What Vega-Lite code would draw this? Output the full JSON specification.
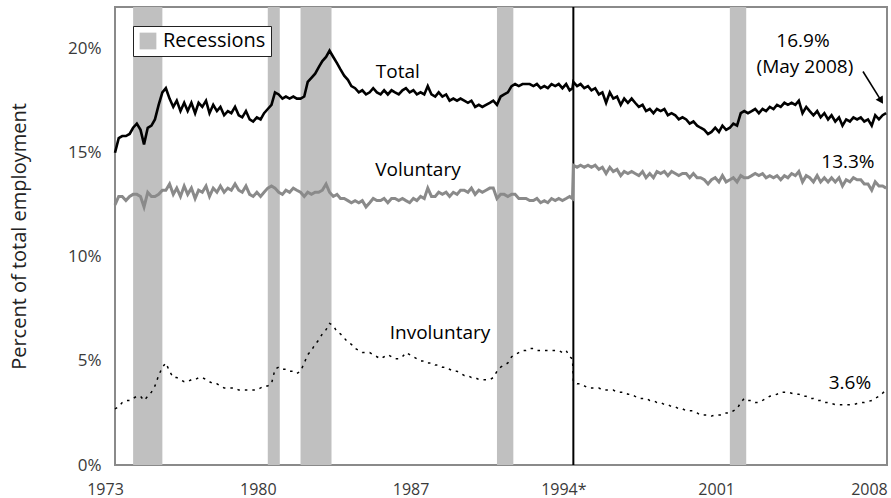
{
  "$schema": "https://vega.github.io/schema/vega-lite/v6.json",
  "width": 772,
  "height": 458,
  "autosize": {"type": "none"},
  "padding": {"left": 115, "top": 7, "right": 4, "bottom": 33},
  "background": "white",
  "config": {
    "view": {"stroke": "#8a8a8a", "strokeWidth": 2},
    "font": "Open Sans",
    "axis": {"grid": false, "ticks": false, "domain": false, "labelFont": "Open Sans", "labelColor": "#3a3a3a", "titleFont": "Open Sans", "titleFontWeight": "normal", "titleColor": "#222"}
  },
  "datasets": {
    "series": [
      {"year":1973.00,"total":15.0,"voluntary":12.5,"involuntary":2.7},
      {"year":1973.17,"total":15.7,"voluntary":12.9,"involuntary":2.8},
      {"year":1973.33,"total":15.8,"voluntary":12.9,"involuntary":3.0},
      {"year":1973.50,"total":15.8,"voluntary":12.7,"involuntary":3.1},
      {"year":1973.67,"total":15.9,"voluntary":12.9,"involuntary":3.1},
      {"year":1973.83,"total":16.2,"voluntary":13.0,"involuntary":3.2},
      {"year":1974.00,"total":16.4,"voluntary":13.0,"involuntary":3.3},
      {"year":1974.17,"total":16.1,"voluntary":12.9,"involuntary":3.3},
      {"year":1974.33,"total":15.4,"voluntary":12.4,"involuntary":3.1},
      {"year":1974.50,"total":16.2,"voluntary":13.1,"involuntary":3.3},
      {"year":1974.67,"total":16.3,"voluntary":12.9,"involuntary":3.5},
      {"year":1974.83,"total":16.6,"voluntary":12.9,"involuntary":3.8},
      {"year":1975.00,"total":17.3,"voluntary":13.0,"involuntary":4.3},
      {"year":1975.17,"total":17.9,"voluntary":13.2,"involuntary":4.7},
      {"year":1975.33,"total":18.1,"voluntary":13.2,"involuntary":4.9},
      {"year":1975.50,"total":17.6,"voluntary":13.5,"involuntary":4.5},
      {"year":1975.67,"total":17.2,"voluntary":13.0,"involuntary":4.2},
      {"year":1975.83,"total":17.5,"voluntary":13.3,"involuntary":4.2},
      {"year":1976.00,"total":17.0,"voluntary":12.9,"involuntary":4.1},
      {"year":1976.17,"total":17.4,"voluntary":13.4,"involuntary":4.0},
      {"year":1976.33,"total":17.0,"voluntary":13.0,"involuntary":4.0},
      {"year":1976.50,"total":17.4,"voluntary":13.3,"involuntary":4.1},
      {"year":1976.67,"total":16.9,"voluntary":12.8,"involuntary":4.1},
      {"year":1976.83,"total":17.4,"voluntary":13.2,"involuntary":4.2},
      {"year":1977.00,"total":17.2,"voluntary":13.1,"involuntary":4.2},
      {"year":1977.17,"total":17.5,"voluntary":13.4,"involuntary":4.1},
      {"year":1977.33,"total":16.9,"voluntary":12.9,"involuntary":4.0},
      {"year":1977.50,"total":17.3,"voluntary":13.3,"involuntary":3.9},
      {"year":1977.67,"total":17.0,"voluntary":13.1,"involuntary":3.9},
      {"year":1977.83,"total":17.2,"voluntary":13.4,"involuntary":3.8},
      {"year":1978.00,"total":16.8,"voluntary":13.1,"involuntary":3.7},
      {"year":1978.17,"total":17.0,"voluntary":13.3,"involuntary":3.7},
      {"year":1978.33,"total":16.9,"voluntary":13.2,"involuntary":3.7},
      {"year":1978.50,"total":17.2,"voluntary":13.5,"involuntary":3.7},
      {"year":1978.67,"total":16.8,"voluntary":13.2,"involuntary":3.6},
      {"year":1978.83,"total":16.7,"voluntary":13.1,"involuntary":3.6},
      {"year":1979.00,"total":17.0,"voluntary":13.4,"involuntary":3.6},
      {"year":1979.17,"total":16.6,"voluntary":13.0,"involuntary":3.6},
      {"year":1979.33,"total":16.5,"voluntary":12.9,"involuntary":3.6},
      {"year":1979.50,"total":16.7,"voluntary":13.1,"involuntary":3.6},
      {"year":1979.67,"total":16.6,"voluntary":12.9,"involuntary":3.7},
      {"year":1979.83,"total":16.9,"voluntary":13.1,"involuntary":3.8},
      {"year":1980.00,"total":17.1,"voluntary":13.3,"involuntary":3.8},
      {"year":1980.17,"total":17.3,"voluntary":13.4,"involuntary":3.9},
      {"year":1980.33,"total":17.9,"voluntary":13.3,"involuntary":4.6},
      {"year":1980.50,"total":17.8,"voluntary":13.1,"involuntary":4.7},
      {"year":1980.67,"total":17.6,"voluntary":13.0,"involuntary":4.6},
      {"year":1980.83,"total":17.7,"voluntary":13.2,"involuntary":4.6},
      {"year":1981.00,"total":17.6,"voluntary":13.1,"involuntary":4.5},
      {"year":1981.17,"total":17.7,"voluntary":13.3,"involuntary":4.5},
      {"year":1981.33,"total":17.6,"voluntary":13.2,"involuntary":4.4},
      {"year":1981.50,"total":17.6,"voluntary":13.1,"involuntary":4.5},
      {"year":1981.67,"total":17.7,"voluntary":12.9,"involuntary":4.9},
      {"year":1981.83,"total":18.4,"voluntary":13.1,"involuntary":5.3},
      {"year":1982.00,"total":18.6,"voluntary":13.0,"involuntary":5.5},
      {"year":1982.17,"total":18.8,"voluntary":13.1,"involuntary":5.8},
      {"year":1982.33,"total":19.1,"voluntary":13.1,"involuntary":6.0},
      {"year":1982.50,"total":19.4,"voluntary":13.2,"involuntary":6.3},
      {"year":1982.67,"total":19.6,"voluntary":13.5,"involuntary":6.5},
      {"year":1982.83,"total":19.9,"voluntary":13.1,"involuntary":6.8},
      {"year":1983.00,"total":19.6,"voluntary":12.9,"involuntary":6.7},
      {"year":1983.17,"total":19.3,"voluntary":13.0,"involuntary":6.4},
      {"year":1983.33,"total":19.0,"voluntary":12.8,"involuntary":6.3},
      {"year":1983.50,"total":18.7,"voluntary":12.8,"involuntary":6.1},
      {"year":1983.67,"total":18.5,"voluntary":12.7,"involuntary":5.9},
      {"year":1983.83,"total":18.2,"voluntary":12.6,"involuntary":5.8},
      {"year":1984.00,"total":18.1,"voluntary":12.7,"involuntary":5.6},
      {"year":1984.17,"total":17.9,"voluntary":12.6,"involuntary":5.5},
      {"year":1984.33,"total":18.0,"voluntary":12.7,"involuntary":5.4},
      {"year":1984.50,"total":17.8,"voluntary":12.4,"involuntary":5.4},
      {"year":1984.67,"total":17.9,"voluntary":12.6,"involuntary":5.4},
      {"year":1984.83,"total":18.1,"voluntary":12.8,"involuntary":5.3},
      {"year":1985.00,"total":17.9,"voluntary":12.7,"involuntary":5.2},
      {"year":1985.17,"total":17.8,"voluntary":12.7,"involuntary":5.1},
      {"year":1985.33,"total":18.0,"voluntary":12.8,"involuntary":5.2},
      {"year":1985.50,"total":17.8,"voluntary":12.6,"involuntary":5.3},
      {"year":1985.67,"total":18.0,"voluntary":12.8,"involuntary":5.2},
      {"year":1985.83,"total":17.9,"voluntary":12.8,"involuntary":5.1},
      {"year":1986.00,"total":17.8,"voluntary":12.7,"involuntary":5.1},
      {"year":1986.17,"total":18.0,"voluntary":12.8,"involuntary":5.2},
      {"year":1986.33,"total":18.1,"voluntary":12.7,"involuntary":5.4},
      {"year":1986.50,"total":17.9,"voluntary":12.6,"involuntary":5.3},
      {"year":1986.67,"total":18.0,"voluntary":12.8,"involuntary":5.2},
      {"year":1986.83,"total":17.8,"voluntary":12.7,"involuntary":5.1},
      {"year":1987.00,"total":17.9,"voluntary":12.9,"involuntary":5.0},
      {"year":1987.17,"total":17.8,"voluntary":12.8,"involuntary":5.0},
      {"year":1987.33,"total":18.2,"voluntary":13.3,"involuntary":4.9},
      {"year":1987.50,"total":17.8,"voluntary":12.9,"involuntary":4.9},
      {"year":1987.67,"total":17.7,"voluntary":12.9,"involuntary":4.8},
      {"year":1987.83,"total":17.9,"voluntary":13.1,"involuntary":4.8},
      {"year":1988.00,"total":17.7,"voluntary":13.0,"involuntary":4.7},
      {"year":1988.17,"total":17.8,"voluntary":13.1,"involuntary":4.7},
      {"year":1988.33,"total":17.5,"voluntary":12.9,"involuntary":4.6},
      {"year":1988.50,"total":17.6,"voluntary":13.1,"involuntary":4.5},
      {"year":1988.67,"total":17.5,"voluntary":13.0,"involuntary":4.5},
      {"year":1988.83,"total":17.6,"voluntary":13.2,"involuntary":4.4},
      {"year":1989.00,"total":17.5,"voluntary":13.2,"involuntary":4.3},
      {"year":1989.17,"total":17.4,"voluntary":13.1,"involuntary":4.3},
      {"year":1989.33,"total":17.5,"voluntary":13.3,"involuntary":4.2},
      {"year":1989.50,"total":17.2,"voluntary":13.0,"involuntary":4.2},
      {"year":1989.67,"total":17.3,"voluntary":13.2,"involuntary":4.1},
      {"year":1989.83,"total":17.2,"voluntary":13.1,"involuntary":4.1},
      {"year":1990.00,"total":17.3,"voluntary":13.2,"involuntary":4.1},
      {"year":1990.17,"total":17.4,"voluntary":13.3,"involuntary":4.1},
      {"year":1990.33,"total":17.5,"voluntary":13.3,"involuntary":4.2},
      {"year":1990.50,"total":17.3,"voluntary":12.8,"involuntary":4.5},
      {"year":1990.67,"total":17.7,"voluntary":13.0,"involuntary":4.7},
      {"year":1990.83,"total":17.8,"voluntary":13.0,"involuntary":4.8},
      {"year":1991.00,"total":17.9,"voluntary":12.9,"involuntary":4.9},
      {"year":1991.17,"total":18.2,"voluntary":13.0,"involuntary":5.2},
      {"year":1991.33,"total":18.3,"voluntary":13.0,"involuntary":5.3},
      {"year":1991.50,"total":18.2,"voluntary":12.8,"involuntary":5.4},
      {"year":1991.67,"total":18.3,"voluntary":12.8,"involuntary":5.5},
      {"year":1991.83,"total":18.3,"voluntary":12.8,"involuntary":5.5},
      {"year":1992.00,"total":18.3,"voluntary":12.7,"involuntary":5.6},
      {"year":1992.17,"total":18.2,"voluntary":12.7,"involuntary":5.6},
      {"year":1992.33,"total":18.3,"voluntary":12.8,"involuntary":5.5},
      {"year":1992.50,"total":18.1,"voluntary":12.6,"involuntary":5.5},
      {"year":1992.67,"total":18.2,"voluntary":12.7,"involuntary":5.5},
      {"year":1992.83,"total":18.1,"voluntary":12.6,"involuntary":5.5},
      {"year":1993.00,"total":18.3,"voluntary":12.8,"involuntary":5.5},
      {"year":1993.17,"total":18.2,"voluntary":12.7,"involuntary":5.5},
      {"year":1993.33,"total":18.3,"voluntary":12.8,"involuntary":5.5},
      {"year":1993.50,"total":18.1,"voluntary":12.7,"involuntary":5.4},
      {"year":1993.67,"total":18.3,"voluntary":12.8,"involuntary":5.5},
      {"year":1993.83,"total":18.0,"voluntary":12.9,"involuntary":5.2},
      {"year":1993.96,"total":18.1,"voluntary":12.8,"involuntary":5.1},
      {"year":1994.00,"total":18.4,"voluntary":14.4,"involuntary":4.0},
      {"year":1994.17,"total":18.2,"voluntary":14.3,"involuntary":3.9},
      {"year":1994.33,"total":18.3,"voluntary":14.4,"involuntary":3.9},
      {"year":1994.50,"total":18.1,"voluntary":14.3,"involuntary":3.8},
      {"year":1994.67,"total":18.2,"voluntary":14.4,"involuntary":3.7},
      {"year":1994.83,"total":18.0,"voluntary":14.3,"involuntary":3.7},
      {"year":1995.00,"total":18.1,"voluntary":14.4,"involuntary":3.7},
      {"year":1995.17,"total":17.8,"voluntary":14.2,"involuntary":3.7},
      {"year":1995.33,"total":17.9,"voluntary":14.3,"involuntary":3.6},
      {"year":1995.50,"total":17.4,"voluntary":14.0,"involuntary":3.6},
      {"year":1995.67,"total":17.9,"voluntary":14.3,"involuntary":3.6},
      {"year":1995.83,"total":17.6,"voluntary":14.1,"involuntary":3.6},
      {"year":1996.00,"total":17.7,"voluntary":14.2,"involuntary":3.5},
      {"year":1996.17,"total":17.3,"voluntary":13.9,"involuntary":3.5},
      {"year":1996.33,"total":17.6,"voluntary":14.1,"involuntary":3.5},
      {"year":1996.50,"total":17.4,"voluntary":14.0,"involuntary":3.4},
      {"year":1996.67,"total":17.6,"voluntary":14.1,"involuntary":3.4},
      {"year":1996.83,"total":17.4,"voluntary":14.0,"involuntary":3.3},
      {"year":1997.00,"total":17.2,"voluntary":13.9,"involuntary":3.2},
      {"year":1997.17,"total":17.3,"voluntary":14.1,"involuntary":3.2},
      {"year":1997.33,"total":17.0,"voluntary":13.8,"involuntary":3.2},
      {"year":1997.50,"total":17.1,"voluntary":14.0,"involuntary":3.1},
      {"year":1997.67,"total":16.9,"voluntary":13.8,"involuntary":3.1},
      {"year":1997.83,"total":17.1,"voluntary":14.1,"involuntary":3.0},
      {"year":1998.00,"total":17.0,"voluntary":14.0,"involuntary":3.0},
      {"year":1998.17,"total":17.1,"voluntary":14.1,"involuntary":2.9},
      {"year":1998.33,"total":16.8,"voluntary":13.9,"involuntary":2.9},
      {"year":1998.50,"total":16.9,"voluntary":14.1,"involuntary":2.8},
      {"year":1998.67,"total":16.8,"voluntary":14.0,"involuntary":2.8},
      {"year":1998.83,"total":16.6,"voluntary":13.9,"involuntary":2.7},
      {"year":1999.00,"total":16.7,"voluntary":14.0,"involuntary":2.7},
      {"year":1999.17,"total":16.6,"voluntary":14.0,"involuntary":2.6},
      {"year":1999.33,"total":16.4,"voluntary":13.8,"involuntary":2.6},
      {"year":1999.50,"total":16.5,"voluntary":14.0,"involuntary":2.6},
      {"year":1999.67,"total":16.3,"voluntary":13.8,"involuntary":2.5},
      {"year":1999.83,"total":16.2,"voluntary":13.8,"involuntary":2.4},
      {"year":2000.00,"total":16.1,"voluntary":13.7,"involuntary":2.4},
      {"year":2000.17,"total":15.9,"voluntary":13.5,"involuntary":2.4},
      {"year":2000.33,"total":16.0,"voluntary":13.7,"involuntary":2.35},
      {"year":2000.50,"total":16.2,"voluntary":13.8,"involuntary":2.4},
      {"year":2000.67,"total":16.0,"voluntary":13.6,"involuntary":2.4},
      {"year":2000.83,"total":16.3,"voluntary":13.9,"involuntary":2.4},
      {"year":2001.00,"total":16.1,"voluntary":13.6,"involuntary":2.5},
      {"year":2001.17,"total":16.2,"voluntary":13.7,"involuntary":2.5},
      {"year":2001.33,"total":16.4,"voluntary":13.8,"involuntary":2.6},
      {"year":2001.50,"total":16.3,"voluntary":13.6,"involuntary":2.7},
      {"year":2001.67,"total":16.9,"voluntary":13.9,"involuntary":3.0},
      {"year":2001.83,"total":17.0,"voluntary":13.8,"involuntary":3.2},
      {"year":2002.00,"total":16.9,"voluntary":13.8,"involuntary":3.1},
      {"year":2002.17,"total":17.0,"voluntary":13.9,"involuntary":3.1},
      {"year":2002.33,"total":17.1,"voluntary":14.0,"involuntary":3.0},
      {"year":2002.50,"total":16.9,"voluntary":13.9,"involuntary":3.0},
      {"year":2002.67,"total":17.1,"voluntary":14.0,"involuntary":3.1},
      {"year":2002.83,"total":17.0,"voluntary":13.8,"involuntary":3.2},
      {"year":2003.00,"total":17.2,"voluntary":13.9,"involuntary":3.3},
      {"year":2003.17,"total":17.1,"voluntary":13.8,"involuntary":3.35},
      {"year":2003.33,"total":17.3,"voluntary":13.9,"involuntary":3.4},
      {"year":2003.50,"total":17.2,"voluntary":13.7,"involuntary":3.5},
      {"year":2003.67,"total":17.4,"voluntary":13.9,"involuntary":3.5},
      {"year":2003.83,"total":17.3,"voluntary":13.8,"involuntary":3.5},
      {"year":2004.00,"total":17.4,"voluntary":14.0,"involuntary":3.45},
      {"year":2004.17,"total":17.3,"voluntary":13.9,"involuntary":3.4},
      {"year":2004.33,"total":17.5,"voluntary":14.1,"involuntary":3.4},
      {"year":2004.50,"total":16.9,"voluntary":13.6,"involuntary":3.3},
      {"year":2004.67,"total":17.2,"voluntary":13.9,"involuntary":3.3},
      {"year":2004.83,"total":17.0,"voluntary":13.8,"involuntary":3.2},
      {"year":2005.00,"total":16.8,"voluntary":13.6,"involuntary":3.2},
      {"year":2005.17,"total":17.0,"voluntary":13.9,"involuntary":3.1},
      {"year":2005.33,"total":16.7,"voluntary":13.6,"involuntary":3.1},
      {"year":2005.50,"total":16.9,"voluntary":13.8,"involuntary":3.0},
      {"year":2005.67,"total":16.6,"voluntary":13.6,"involuntary":3.0},
      {"year":2005.83,"total":16.8,"voluntary":13.8,"involuntary":2.95},
      {"year":2006.00,"total":16.5,"voluntary":13.6,"involuntary":2.9},
      {"year":2006.17,"total":16.7,"voluntary":13.8,"involuntary":2.9},
      {"year":2006.33,"total":16.3,"voluntary":13.4,"involuntary":2.9},
      {"year":2006.50,"total":16.6,"voluntary":13.7,"involuntary":2.9},
      {"year":2006.67,"total":16.5,"voluntary":13.6,"involuntary":2.9},
      {"year":2006.83,"total":16.7,"voluntary":13.8,"involuntary":2.9},
      {"year":2007.00,"total":16.6,"voluntary":13.7,"involuntary":2.95},
      {"year":2007.17,"total":16.7,"voluntary":13.7,"involuntary":3.0},
      {"year":2007.33,"total":16.5,"voluntary":13.5,"involuntary":3.0},
      {"year":2007.50,"total":16.6,"voluntary":13.5,"involuntary":3.05},
      {"year":2007.67,"total":16.3,"voluntary":13.2,"involuntary":3.1},
      {"year":2007.83,"total":16.8,"voluntary":13.6,"involuntary":3.2},
      {"year":2008.00,"total":16.6,"voluntary":13.4,"involuntary":3.3},
      {"year":2008.17,"total":16.8,"voluntary":13.4,"involuntary":3.45},
      {"year":2008.33,"total":16.9,"voluntary":13.3,"involuntary":3.6}
    ],
    "recessions": [
      {"start":1973.83,"end":1975.17,"name":"Recessions"},
      {"start":1980.0,"end":1980.55,"name":"Recessions"},
      {"start":1981.5,"end":1982.92,"name":"Recessions"},
      {"start":1990.5,"end":1991.25,"name":"Recessions"},
      {"start":2001.17,"end":2001.92,"name":"Recessions"}
    ],
    "notes": [
      {"year":1985.96,"value":18.9,"text":"Total"},
      {"year":1986.88,"value":14.18,"text":"Voluntary"},
      {"year":1987.89,"value":6.35,"text":"Involuntary"},
      {"year":2004.52,"value":20.35,"text":"16.9%"},
      {"year":2004.61,"value":19.1,"text":"(May 2008)"},
      {"year":2006.58,"value":14.57,"text":"13.3%"},
      {"year":2006.67,"value":3.94,"text":"3.6%"}
    ],
    "arrow": [
      {"x1":2007.27,"y1":18.9,"x2":2008.1,"y2":17.5}
    ],
    "break": [
      {"year":1994.0,"lo":0,"hi":22}
    ]
  },
  "layer": [
    {
      "data": {"name": "recessions"},
      "mark": {"type": "rect", "opacity": 1},
      "encoding": {
        "x": {"field": "start", "type": "quantitative", "scale": {"domain": [1973, 2008.37], "nice": false, "zero": false},
          "axis": {"values": [1973, 1980, 1987, 1994, 2001, 2008], "labelExpr": "datum.value == 1994 ? '1994*' : datum.value", "labelFontSize": 16, "labelPadding": 16, "labelOffset": -10, "labelFlush": false, "labelOverlap": false, "title": null}},
        "x2": {"field": "end"},
        "y": {"datum": 0, "type": "quantitative", "scale": {"domain": [0, 22], "nice": false},
          "axis": {"values": [0, 5, 10, 15, 20], "labelExpr": "datum.value + '%'", "labelFontSize": 17, "labelPadding": 14, "labelFlush": false, "title": "Percent of total employment", "titleFontSize": 20, "titlePadding": 38}},
        "y2": {"datum": 22},
        "color": {"field": "name", "type": "nominal", "scale": {"range": ["#c0c0c0"]},
          "legend": {"title": null, "orient": "none", "legendX": 18, "legendY": 19, "strokeColor": "#222", "fillColor": "white", "padding": 5, "symbolType": "square", "symbolSize": 280, "symbolStrokeWidth": 0, "symbolOpacity": 1, "labelFontSize": 20, "labelColor": "#000", "labelFont": "Open Sans", "labelOffset": 5}}
      }
    },
    {
      "data": {"name": "break"},
      "mark": {"type": "rule", "color": "#000", "strokeWidth": 2},
      "encoding": {
        "x": {"field": "year", "type": "quantitative"},
        "y": {"field": "lo", "type": "quantitative"},
        "y2": {"field": "hi"}
      }
    },
    {
      "data": {"name": "series"},
      "mark": {"type": "line", "color": "#8a8a8a", "strokeWidth": 3},
      "encoding": {
        "x": {"field": "year", "type": "quantitative"},
        "y": {"field": "voluntary", "type": "quantitative"}
      }
    },
    {
      "data": {"name": "series"},
      "mark": {"type": "line", "color": "#000", "strokeWidth": 2.6},
      "encoding": {
        "x": {"field": "year", "type": "quantitative"},
        "y": {"field": "total", "type": "quantitative"}
      }
    },
    {
      "data": {"name": "series"},
      "mark": {"type": "line", "color": "#000", "strokeWidth": 1.5, "strokeDash": [2.5, 5]},
      "encoding": {
        "x": {"field": "year", "type": "quantitative"},
        "y": {"field": "involuntary", "type": "quantitative"}
      }
    },
    {
      "data": {"name": "notes"},
      "mark": {"type": "text", "fontSize": 19, "font": "Open Sans", "color": "#000", "align": "center", "baseline": "middle"},
      "encoding": {
        "x": {"field": "year", "type": "quantitative"},
        "y": {"field": "value", "type": "quantitative"},
        "text": {"field": "text"}
      }
    },
    {
      "data": {"name": "arrow"},
      "mark": {"type": "rule", "color": "#000", "strokeWidth": 1.6},
      "encoding": {
        "x": {"field": "x1", "type": "quantitative"},
        "y": {"field": "y1", "type": "quantitative"},
        "x2": {"field": "x2"},
        "y2": {"field": "y2"}
      }
    },
    {
      "data": {"name": "arrow"},
      "mark": {"type": "point", "shape": "triangle-up", "filled": true, "color": "#000", "size": 70, "angle": 148, "opacity": 1},
      "encoding": {
        "x": {"field": "x2", "type": "quantitative"},
        "y": {"field": "y2", "type": "quantitative"}
      }
    }
  ]
}
